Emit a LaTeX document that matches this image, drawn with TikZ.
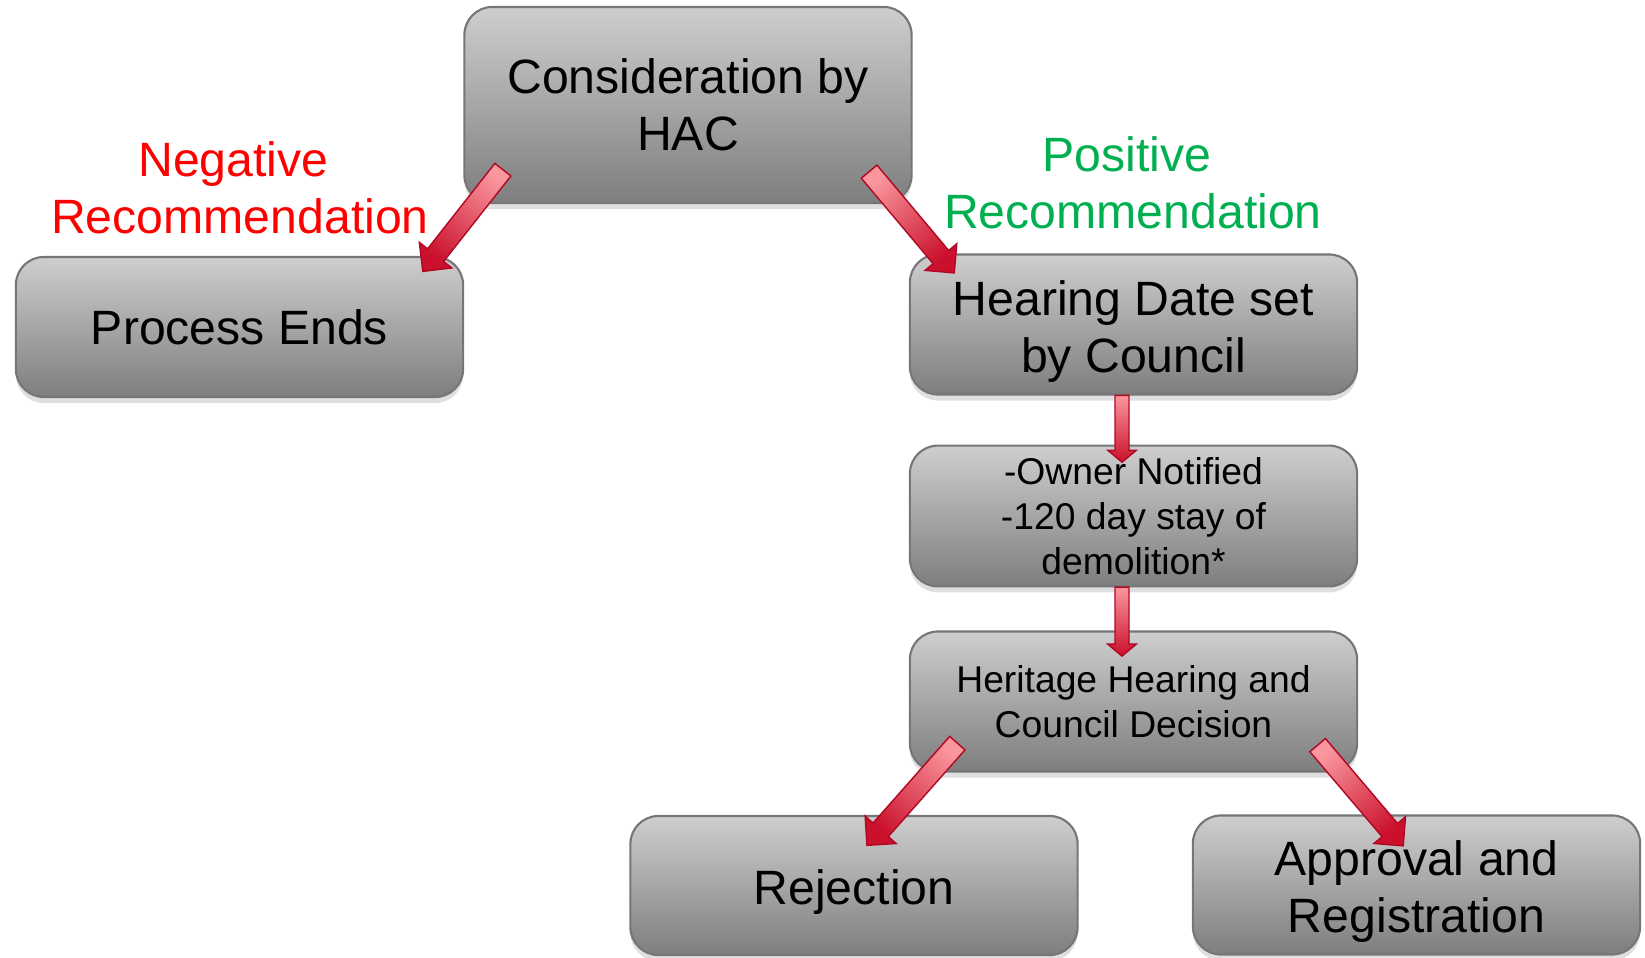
\documentclass[tikz,border=0pt]{standalone}
\usepackage{fontspec}
\setmainfont{Liberation Sans}
\usetikzlibrary{calc,shapes.arrows,shadows}
\definecolor{boxtop}{RGB}{206,206,206}
\definecolor{boxbottom}{RGB}{126,126,126}
\definecolor{boxline}{RGB}{118,118,118}
\definecolor{arrowtail}{RGB}{250,150,158}
\definecolor{arrowtip}{RGB}{202,16,44}
\definecolor{arrowline}{RGB}{176,8,36}
\definecolor{negred}{RGB}{255,0,0}
\definecolor{posgreen}{RGB}{0,176,80}
\newcommand\bigtext{\fontsize{13.7}{16.2}\selectfont}
\newcommand\smalltext{\fontsize{10.6}{12.8}\selectfont}
\newcommand\dropline[1]{\raisebox{-0.07cm}[\height][\depth]{#1}}
\newcommand\blockarrow[3]{\path let \p1 = ($(#3)-(#2)$), \n1 = {atan2(\y1,\x1)}, \n2 = {veclen(\x1,\y1)} in node [#1, minimum height = \n2, rotate = \n1, anchor = tail, shading angle = {\n1+90}] at (#2) {};}
\begin{document}
\begin{tikzpicture}[x = 0.01cm, y = -0.01cm,
  box/.style = {rectangle, rounded corners = 0.28cm, draw = boxline, line width = 0.6pt, top color = boxtop, bottom color = boxbottom, minimum width = 4.47cm, minimum height = 1.4cm, align = center, font = \bigtext, drop shadow = {shadow xshift = 0cm, shadow yshift = -0.06cm, opacity = 0.25}},
  redarrow/.style = {single arrow, draw = arrowline, line width = 0.4pt, left color = arrowtail, right color = arrowtip, single arrow tip angle = 90},
  bigarrow/.style = {redarrow, inner sep = 0.095cm, single arrow head extend = 0.105cm},
  smallarrow/.style = {redarrow, inner sep = 0.063cm, single arrow head extend = 0.072cm, single arrow tip angle = 100}]
\useasboundingbox (0,0) rectangle (1645,957);
\node [box, minimum height = 1.96cm] (hac) at (688,105) {Consideration by\\HAC};
\node [box] (ends) at (239.5,327) {Process Ends};
\node [box] (hearing) at (1133.5,324.5) {\dropline{Hearing Date set}\\\dropline{by Council}};
\node [box, font = \smalltext] (owner) at (1133.5,516) {-Owner Notified\\-120 day stay of\\demolition*};
\node [box, font = \smalltext] (heritage) at (1133.5,701.5) {Heritage Hearing and\\Council Decision};
\node [box, minimum height = 1.39cm] (rejection) at (854,885.5) {\dropline{Rejection}};
\node [box, minimum height = 1.39cm] (approval) at (1416.5,885) {\dropline{Approval and}\\\dropline{Registration}};
\node [text = negred, font = \bigtext, align = center] (neglabel) at (240,188) {Negative\hspace*{0.13cm}\\Recommendation};
\node [text = posgreen, font = \bigtext, align = center] (poslabel) at (1133,183) {Positive\hspace*{0.12cm}\\Recommendation};
\coordinate (negtail) at ($(hac.south west)+(40,-35)$);
\coordinate (negtip) at ($(ends.north east)+(-41,15)$);
\coordinate (postail) at ($(hac.south east)+(-44,-33)$);
\coordinate (postip) at ($(hearing.north west)+(45,19)$);
\coordinate (notifytail) at ($(hearing.south)+(-11.5,-1)$);
\coordinate (notifytip) at ($(owner.north)+(-11.5,17)$);
\coordinate (staytail) at ($(owner.south)+(-11.5,-1)$);
\coordinate (staytip) at ($(heritage.north)+(-11.5,25)$);
\coordinate (rejecttail) at ($(heritage.south west)+(49,-30)$);
\coordinate (rejecttip) at ($(rejection.north west)+(238,30)$);
\coordinate (approvetail) at ($(heritage.south east)+(-41,-28)$);
\coordinate (approvetip) at ($(approval.north west)+(211,31)$);
\blockarrow{bigarrow}{negtail}{negtip}
\blockarrow{bigarrow}{postail}{postip}
\blockarrow{smallarrow}{notifytail}{notifytip}
\blockarrow{smallarrow}{staytail}{staytip}
\blockarrow{bigarrow}{rejecttail}{rejecttip}
\blockarrow{bigarrow}{approvetail}{approvetip}
\end{tikzpicture}
\end{document}
